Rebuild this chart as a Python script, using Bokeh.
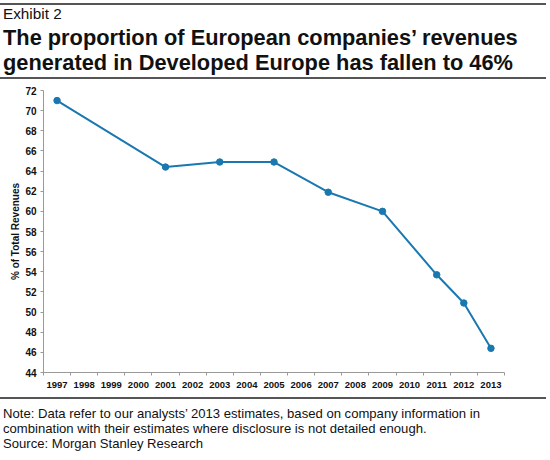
from bokeh.plotting import figure
from bokeh.layouts import column
from bokeh.models import Range1d, FixedTicker, Div
from bokeh.embed import file_html
from bokeh.resources import INLINE

# ---- data ----
years = [1997, 2001, 2003, 2005, 2007, 2009, 2011, 2012, 2013]
share = [71.0, 64.4, 64.9, 64.9, 61.9, 60.0, 53.7, 50.9, 46.4]
year_ticks = list(range(1997, 2014))
y_ticks = list(range(44, 73, 2))

exhibit = "Exhibit 2"
title_lines = ["The proportion of European companies\u2019 revenues",
               "generated in Developed Europe has fallen to 46%"]
note_lines = ["Note: Data refer to our analysts\u2019 2013 estimates, based on company information in",
              "combination with their estimates where disclosure is not detailed enough.",
              "Source: Morgan Stanley Research"]
y_label = "% of Total Revenues"

FONT = "Liberation Sans"
W = 550
LINE = "#1a78b0"
RULE = "#555555"

def rule_html(top):
    return (f'<div style="position:absolute;left:0;top:{top}px;width:546px;height:1.3px;'
            f'background:{RULE};"></div>')

def text_html(s, center, size, lh, bold=False):
    return (f'<div style="position:absolute;left:3px;top:{center - lh / 2}px;line-height:{lh}px;'
            f'font-family:\'{FONT}\';font-size:{size}px;font-weight:{"bold" if bold else "normal"};'
            f'color:#111;white-space:nowrap;">{s}</div>')

# ---- header ----
HH = 84
hdr_html = (f'<div style="position:relative;width:{W}px;height:{HH}px;">'
            + rule_html(3.4)
            + text_html(exhibit, 13.5, 15.3, 16)
            + text_html(title_lines[0], 37.5, 21.8, 26, True)
            + text_html(title_lines[1], 62.5, 21.8, 26, True)
            + rule_html(77.4) + '</div>')
hdr = Div(text=hdr_html, width=W, height=HH, margin=0)

# ---- main chart ----
p = figure(width=W, height=310, x_range=Range1d(1996.5, 2013.5), y_range=Range1d(44, 72),
           output_backend="svg", toolbar_location=None,
           min_border_left=43, min_border_right=46, min_border_top=6, min_border_bottom=22)
p.grid.visible = False
p.outline_line_color = None
p.line(years, share, line_color=LINE, line_width=2)
p.scatter(years, share, size=6.5, fill_color=LINE, line_color=LINE)

p.xaxis.ticker = FixedTicker(ticks=year_ticks,
                             minor_ticks=[y - 0.5 for y in year_ticks] + [year_ticks[-1] + 0.5])
p.xaxis.major_tick_out = 0
p.xaxis.major_tick_in = 0
p.xaxis.minor_tick_out = 3
p.xaxis.minor_tick_in = 0
p.xaxis.minor_tick_line_color = "#999999"
p.xaxis.major_label_standoff = 6
p.yaxis.ticker = FixedTicker(ticks=y_ticks, minor_ticks=[])
p.yaxis.major_tick_out = 3
p.yaxis.major_tick_in = 0
p.yaxis.minor_tick_out = 0
p.yaxis.major_label_standoff = 4
p.axis.axis_line_color = "#999999"
p.axis.major_tick_line_color = "#999999"
p.axis.major_label_text_font = FONT
p.axis.major_label_text_font_style = "bold"
p.axis.major_label_text_color = "#111111"
p.xaxis.major_label_text_font_size = "9.5px"
p.yaxis.major_label_text_font_size = "10px"
p.yaxis.axis_label = y_label
p.yaxis.axis_label_text_font = FONT
p.yaxis.axis_label_text_font_size = "10px"
p.yaxis.axis_label_text_font_style = "bold"
p.yaxis.axis_label_text_color = "#111111"
p.yaxis.axis_label_standoff = 1

# ---- footer ----
FH = 66
ftr_html = (f'<div style="position:relative;width:{W}px;height:{FH}px;">'
            + rule_html(3.4)
            + ''.join(text_html(s, 19 + 15 * i, 13.1, 15) for i, s in enumerate(note_lines))
            + '</div>')
ftr = Div(text=ftr_html, width=W, height=FH, margin=0)

lay = column(hdr, p, ftr, spacing=0)
open("out.html", "w").write(file_html(lay, INLINE))
